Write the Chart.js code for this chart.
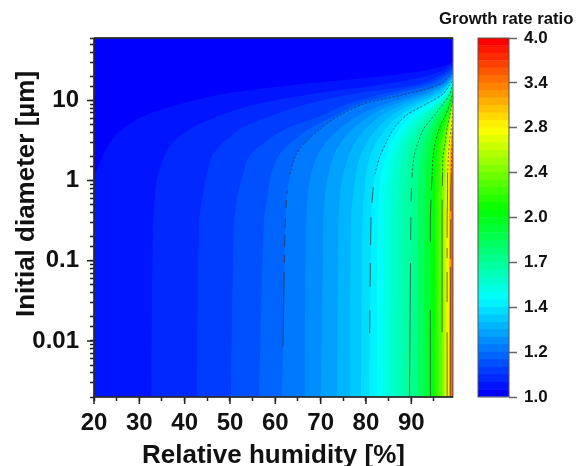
<!DOCTYPE html>
<html>
<head>
<meta charset="utf-8">
<title>Growth rate ratio</title>
<script src="https://cdn.jsdelivr.net/npm/chart.js@4"></script>
<style>
    body { margin: 0; background: #fff; }
    canvas { position: absolute; top: 0; filter: blur(0.4px); }
    #field { left: 0; }
    #colorbar { left: 430px; }
</style>
</head>
<body>
<canvas id="field" width="579" height="466"></canvas>
<canvas id="colorbar" width="149" height="466"></canvas>
<script>
// axes
const rhMin = 20, rhMax = 99.2, diamMin = 0.002, diamMax = 60;
const rhMajor = [20, 30, 40, 50, 60, 70, 80, 90];
const diamMajor = [10, 1, 0.1, 0.01];
const diamLabels = ['10', '1', '0.1', '0.01'];
const colorbarLabels = ['1.0', '1.2', '1.4', '1.7', '2.0', '2.4', '2.8', '3.4', '4.0'];
const bandsPerTick = 6;

// diameters [um] at which every contour below was read
const diam = [0.002, 0.3, 0.7, 1.2, 2, 3, 4.5, 6.5, 9, 12, 16, 22, 30, 60];

// relative humidity [%] of each contour along diam, named by band number
const rh01 = [16.9, 17.6, 18.2, 20.2, 21.8, 23.5, 26.4, 31.3, 39.0, 48.5, 65.9, 89.3, 99.0, 103];
const rh02 = [32.6, 33.0, 33.5, 34.1, 35.5, 37.4, 41.4, 47.8, 56.0, 68.1, 84.2, 95.7, 99.3, 103.4];
const rh03 = [42.7, 43.2, 44.1, 44.9, 46.0, 48.5, 52.5, 59.3, 67.0, 77.0, 91.5, 97.3, 99.9, 103.7];
const rh04 = [50.2, 50.9, 51.8, 52.9, 54.2, 57.7, 62.6, 70.3, 75.9, 83.8, 93.3, 98.1, 100.1, 103.9];
const rh05 = [56.4, 57.5, 58.4, 59.1, 60.6, 63.5, 67.7, 73.2, 78.3, 86.4, 94.8, 98.6, 100.4, 104.1];
const rh06 = [61.5, 62.2, 62.6, 63.3, 64.4, 66.6, 70.1, 74.1, 79.4, 88.9, 96.4, 99.0, 100.4, 104.3];
const rh07 = [66.4, 66.8, 67.2, 67.9, 69.2, 71.2, 74.3, 78.3, 84.2, 91.5, 97.0, 99.2, 100.8, 104.3];
const rh08 = [70.1, 70.6, 71.0, 71.7, 72.8, 74.5, 77.2, 80.9, 86.4, 93.1, 97.5, 99.5, 101.0, 104.5];
const rh09 = [73.6, 73.9, 74.3, 75.0, 76.1, 77.6, 80.0, 83.4, 88.4, 94.4, 97.9, 99.7, 101.2, 104.5];
const rh10 = [76.5, 76.7, 77.2, 77.8, 78.7, 80.3, 82.5, 85.6, 90.2, 95.5, 98.1, 99.9, 101.5, 104.8];
const rh11 = [78.9, 79.2, 79.6, 80.0, 80.9, 82.3, 84.5, 87.3, 91.7, 96.4, 98.4, 100.1, 101.7, 104.8];
const rh12 = [80.7, 81.1, 81.5, 82.0, 83.1, 84.5, 86.2, 88.9, 93.3, 97.0, 98.6, 100.4, 101.9, 105];
const rh13 = [82.3, 82.6, 82.9, 83.4, 84.3, 85.6, 87.5, 90.2, 94.2, 97.5, 98.8, 100.4, 101.9, 105];
const rh14 = [83.6, 83.9, 84.2, 84.7, 85.6, 86.9, 88.7, 91.3, 95.1, 97.7, 98.9, 100.5, 102, 105];
const rh15 = [85.1, 85.3, 85.7, 86.0, 86.9, 88.0, 90.0, 92.4, 95.7, 97.9, 99.0, 100.5, 102, 105];
const rh16 = [86.7, 86.9, 87.1, 87.4, 88.0, 89.1, 90.9, 93.3, 96.2, 98.1, 99.1, 100.6, 102, 105];
const rh17 = [88.2, 88.4, 88.5, 88.9, 89.3, 90.2, 92.0, 94.2, 96.6, 98.4, 99.2, 100.6, 102, 105];
const rh18 = [89.6, 89.9, 90.0, 90.2, 90.6, 91.5, 92.8, 95.1, 97.0, 98.5, 99.2, 100.7, 102, 105];
const rh20 = [91.3, 91.4, 91.5, 91.7, 92.1, 92.8, 94.0, 95.7, 97.5, 98.7, 99.4, 100.7, 102, 105];
const rh22 = [92.8, 92.9, 93.0, 93.2, 93.5, 94.2, 95.1, 96.6, 97.9, 98.9, 99.5, 100.8, 102, 105];
const rh24 = [94.2, 94.2, 94.4, 94.6, 94.8, 95.3, 96.2, 97.5, 98.5, 99.1, 99.9, 100.8, 102, 105];
const rh26 = [95.1, 95.2, 95.2, 95.3, 95.6, 95.9, 96.8, 97.9, 98.8, 99.4, 100, 100.9, 102, 105];
const rh28 = [95.9, 96.0, 96.0, 96.2, 96.4, 96.6, 97.4, 98.4, 99.0, 99.6, 100.2, 100.9, 102, 105];
const rh30 = [96.8, 96.8, 96.8, 96.9, 97.0, 97.5, 97.9, 98.5, 99.0, 99.7, 100.2, 101, 102, 105];
const rh32 = [97.2, 97.2, 97.3, 97.4, 97.5, 97.8, 98.2, 98.7, 99.1, 99.9, 100.3, 101, 102, 105];
const rh34 = [97.5, 97.6, 97.6, 97.7, 97.8, 98.1, 98.4, 98.8, 99.2, 100, 100.3, 101, 102, 105];
const rh36 = [97.9, 97.9, 98.0, 98.0, 98.2, 98.4, 98.8, 99.1, 99.5, 100.4, 100.5, 101, 102, 105];
const rh39 = [98.3, 98.3, 98.4, 98.4, 98.5, 98.7, 98.9, 99.2, 100, 100.5, 100.6, 101, 102, 105];
const rh42 = [98.6, 98.7, 98.7, 98.8, 98.9, 99.0, 99.2, 99.4, 100, 100.5, 100.6, 101, 102, 105];
const rh45 = [99.0, 99.0, 99.0, 99.1, 99.1, 99.2, 99.4, 100, 100.2, 100.5, 100.6, 101, 102, 105];

const contours = [
    [45, rh45], [42, rh42], [39, rh39], [36, rh36], [34, rh34], [32, rh32], [30, rh30], [28, rh28],
    [26, rh26], [24, rh24], [22, rh22], [20, rh20], [18, rh18], [17, rh17], [16, rh16], [15, rh15],
    [14, rh14], [13, rh13], [12, rh12], [11, rh11], [10, rh10], [9, rh09], [8, rh08], [7, rh07],
    [6, rh06], [5, rh05], [4, rh04], [3, rh03], [2, rh02], [1, rh01]
];

// rainbow ramp of the colour bar
const rampStops = [0, 0.27, 0.52, 0.75, 1];
const rampColors = [[0, 0, 255], [0, 255, 255], [0, 255, 0], [255, 255, 0], [255, 0, 0]];

function bandColor(band) {
    let t = band / (bandsPerTick * (colorbarLabels.length - 1) - 1);
    let i = 0;
    while (i < rampStops.length - 2 && t > rampStops[i + 1]) i++;
    let f = (t - rampStops[i]) / (rampStops[i + 1] - rampStops[i]);
    let a = rampColors[i], b = rampColors[i + 1];
    return 'rgb(' + a.map((c, k) => Math.round(c + (b[k] - c) * f)).join(',') + ')';
}

function toPoints(rh) {
    return rh.map((x, i) => ({x: x, y: diam[i]}));
}

// the labelled contours: dash lengths follow the broken lines of the original, from the bottom up
const lineColor = 'rgba(45, 45, 45, 0.65)';
const labelled = [
    [rh06, [0, 50, 75, 9, 8, 8, 12, 7, 10, 10, 8, 6, 4, 6]],
    [rh12, [0, 64, 23, 23, 24, 18, 28, 14, 16, 8]],
    [rh18, [134, 23, 23, 15, 14, 10, 8, 8]],
    [rh24, [87, 68, 42, 10, 14, 10]],
    [rh30, [0, 65, 132, 14, 12, 10]],
    [rh36, [65, 30, 30, 14, 10, 10]],
    [rh42, [130, 8, 40, 8]]
];

const lineSets = labelled.map(([rh, dash]) => ({
    data: toPoints(rh),
    showLine: true,
    fill: false,
    borderColor: lineColor,
    borderWidth: 1,
    pointRadius: 0,
    tension: 0.3,
    segment: {
        borderDash: ctx => ctx.p0DataIndex < 3 ? dash : [2, 2]
    }
}));

const bandSets = contours.map(([band, rh]) => ({
    data: toPoints(rh),
    showLine: true,
    fill: 'start',
    backgroundColor: bandColor(band),
    borderWidth: 0,
    pointRadius: 0,
    tension: 0.3
}));

const fontFamily = '"Liberation Sans", Arial, sans-serif';
const axisFont = {family: fontFamily, weight: 'bold', size: 24};
const titleFont = {family: fontFamily, weight: 'bold', size: 26, lineHeight: 1};
const yTitle = 'Initial diameter [µm]';

const fieldDecor = {
    id: 'fieldDecor',
    beforeDatasetsDraw(chart) {
        let {ctx, chartArea: a} = chart;
        ctx.fillStyle = bandColor(0);
        ctx.fillRect(a.left, a.top, a.right - a.left, a.bottom - a.top);
    },
    afterDraw(chart) {
        let {ctx, chartArea: a, scales} = chart;
        ctx.save();
        ctx.strokeStyle = '#222';
        ctx.lineWidth = 1.5;
        ctx.beginPath();
        rhMajor.forEach(v => {
            let x = scales.x.getPixelForValue(v);
            ctx.moveTo(x, a.bottom);
            ctx.lineTo(x, a.bottom + 7);
        });
        diamMajor.forEach(v => {
            let y = scales.y.getPixelForValue(v);
            ctx.moveTo(a.left, y);
            ctx.lineTo(a.left - 7, y);
        });
        ctx.stroke();
        ctx.strokeStyle = '#666';
        ctx.lineWidth = 1;
        ctx.strokeRect(a.left, a.top, a.right - a.left, a.bottom - a.top);
        ctx.strokeStyle = '#222';
        ctx.lineWidth = 1.5;
        ctx.beginPath();
        ctx.moveTo(a.left, a.top);
        ctx.lineTo(a.left, a.bottom);
        ctx.lineTo(a.right, a.bottom);
        ctx.moveTo(a.left, a.top);
        ctx.lineTo(a.right, a.top);
        ctx.stroke();
        // the y title sits above the middle of the axis in the original
        ctx.translate(27, 194);
        ctx.rotate(-Math.PI / 2);
        ctx.fillStyle = '#111';
        ctx.font = 'bold 26px ' + fontFamily;
        ctx.textAlign = 'center';
        ctx.textBaseline = 'middle';
        ctx.fillText(yTitle, 0, 0);
        ctx.restore();
    }
};

new Chart(document.getElementById('field'), {
    type: 'scatter',
    data: {datasets: lineSets.concat(bandSets)},
    options: {
        responsive: false,
        animation: false,
        layout: {padding: {left: 11, top: 38, right: 126, bottom: 0}},
        plugins: {legend: {display: false}, tooltip: {enabled: false}},
        scales: {
            x: {
                type: 'linear',
                min: rhMin,
                max: rhMax,
                afterFit: s => { s.height = 69; },
                title: {display: true, text: 'Relative humidity [%]', color: '#111', font: titleFont, padding: {top: 0, bottom: -3}},
                grid: {drawOnChartArea: false, tickLength: 4, tickColor: '#222', tickWidth: 1.5},
                border: {display: false},
                ticks: {
                    stepSize: 5,
                    includeBounds: false,
                    autoSkip: false,
                    maxRotation: 0,
                    padding: 8,
                    color: '#111',
                    font: axisFont,
                    callback: v => rhMajor.includes(v) ? String(v) : ''
                }
            },
            y: {
                type: 'logarithmic',
                min: diamMin,
                max: diamMax,
                afterFit: s => { s.width = 83; },
                grid: {drawOnChartArea: false, tickLength: 4, tickColor: '#222', tickWidth: 1.5},
                border: {display: false},
                ticks: {
                    autoSkip: false,
                    padding: 11,
                    color: '#111',
                    font: axisFont,
                    callback: v => {
                        let i = diamMajor.findIndex(m => Math.abs(m - v) < m * 1e-6);
                        return i < 0 ? '' : diamLabels[i];
                    }
                }
            }
        }
    },
    plugins: [fieldDecor]
});

// colour bar: one stacked bar per band
const barBands = [];
for (let b = 0; b < bandsPerTick * (colorbarLabels.length - 1); b++) {
    barBands.push({
        data: [1 / bandsPerTick],
        backgroundColor: bandColor(b),
        barPercentage: 1,
        categoryPercentage: 1,
        yAxisID: 'y'
    });
}

const barDecor = {
    id: 'barDecor',
    afterDraw(chart) {
        let {ctx, chartArea: a} = chart;
        ctx.save();
        ctx.strokeStyle = '#555';
        ctx.lineWidth = 1;
        ctx.strokeRect(a.left, a.top, a.right - a.left, a.bottom - a.top);
        ctx.restore();
    }
};

new Chart(document.getElementById('colorbar'), {
    type: 'bar',
    data: {labels: [''], datasets: barBands},
    options: {
        responsive: false,
        animation: false,
        layout: {padding: {left: 9, top: 0, right: 0, bottom: 69}},
        plugins: {
            legend: {display: false},
            tooltip: {enabled: false},
            title: {
                display: true,
                text: 'Growth rate ratio',
                align: 'start',
                color: '#111',
                font: {family: fontFamily, weight: 'bold', size: 16.7, lineHeight: 1.2},
                padding: {top: 9, bottom: 9}
            }
        },
        scales: {
            x: {stacked: true, display: false},
            y: {
                stacked: true,
                position: 'right',
                min: 0,
                max: colorbarLabels.length - 1,
                afterFit: s => { s.width = 70; },
                grid: {drawOnChartArea: false, tickLength: 8, tickColor: '#666', tickWidth: 1.5},
                border: {display: false},
                ticks: {
                    stepSize: 1,
                    padding: 7,
                    color: '#111',
                    font: {family: fontFamily, weight: 'bold', size: 17},
                    callback: v => colorbarLabels[v]
                }
            },
            spacer: {
                position: 'left',
                afterFit: s => { s.width = 39; },
                grid: {display: false},
                border: {display: false},
                ticks: {display: false}
            }
        }
    },
    plugins: [barDecor]
});
</script>
</body>
</html>
